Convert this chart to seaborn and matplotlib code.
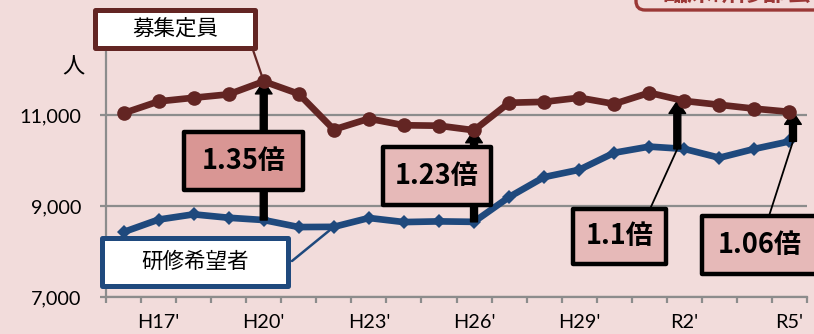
import matplotlib
matplotlib.use("Agg")
import matplotlib.pyplot as plt
import numpy as np
import pandas as pd
import seaborn as sns
from matplotlib.patches import Rectangle, FancyBboxPatch
from matplotlib.transforms import IdentityTransform

# ---- data -------------------------------------------------------------
years = ["H16'", "H17'", "H18'", "H19'", "H20'", "H21'", "H22'", "H23'",
         "H24'", "H25'", "H26'", "H27'", "H28'", "H29'", "H30'", "R1'",
         "R2'", "R3'", "R4'", "R5'"]
capacity = [11050, 11310, 11390, 11465, 11750, 11475, 10690, 10930, 10785, 10775,
            10675, 11280, 11300, 11390, 11255, 11500, 11320, 11235, 11150, 11080]
applicants = [8435, 8710, 8825, 8750, 8700, 8545, 8550, 8745, 8655, 8670,
              8660, 9205, 9645, 9805, 10180, 10315, 10265, 10070, 10265, 10430]
shown_years = ["H17'", "H20'", "H23'", "H26'", "H29'", "R2'", "R5'"]
y_ticks = [7000, 9000, 11000]
ratio_years = ["H20'", "H26'", "R2'", "R5'"]
ratio_labels = ["1.35倍", "1.23倍", "1.1倍", "1.06倍"]
capacity_name = "募集定員"
applicant_name = "研修希望者"
unit_label = "人"
header_text = "臨床研修部会"

# ---- style ------------------------------------------------------------
BG = "#F2DCDB"
RED = "#632523"
BLUE = "#1F497D"
GRID = "#8C8C8C"
BOX_DARK = "#D99694"
BOX_LIGHT = "#E6B9B8"
HEADER_RED = "#9B3836"

sns.set_theme(style="white")
plt.rcParams["font.family"] = ["Lato", "Noto Sans CJK JP", "DejaVu Sans"]
CJK = ["Noto Sans CJK JP", "DejaVu Sans"]

W, H = 814, 334
fig = plt.figure(figsize=(W / 100, H / 100), dpi=100, facecolor=BG)
ax = fig.add_axes([106 / W, (H - 297.3) / H, (807 - 106) / W, (297.3 - 47.3) / H])
ax.set_facecolor(BG)

df = pd.DataFrame({"pos": np.arange(len(years)), "year": years,
                   "capacity": capacity, "applicants": applicants})
idx = {y: i for i, y in enumerate(years)}

sns.lineplot(data=df, x="pos", y="applicants", ax=ax, color=BLUE, lw=4.8,
             marker="D", markersize=7.5, markeredgecolor=BLUE, markeredgewidth=0,
             zorder=3)
sns.lineplot(data=df, x="pos", y="capacity", ax=ax, color=RED, lw=4.8,
             marker="o", markersize=10.5, markeredgecolor=RED, markeredgewidth=0,
             zorder=6)

ax.set_xlim(-0.5, len(years) - 0.5)
ax.set_ylim(7000, 12500)
ax.set_xlabel("")
ax.set_ylabel("")

# axes, grid and ticks
for s in ["top", "right"]:
    ax.spines[s].set_visible(False)
for s in ["left", "bottom"]:
    ax.spines[s].set_color(GRID)
    ax.spines[s].set_linewidth(1.6)
ax.set_axisbelow(True)
ax.set_yticks(y_ticks)
ax.set_yticklabels([f"{v:,}" for v in y_ticks])
ax.yaxis.grid(True, color=GRID, lw=1.6)
ax.xaxis.grid(False)
ax.tick_params(axis="y", which="major", left=True, length=4.5, width=1.6,
               color=GRID, pad=13, labelsize=14.3, labelcolor="black")
ax.set_xticks(np.arange(-0.5, len(years), 1.0))
ax.set_xticklabels([])
ax.tick_params(axis="x", which="major", bottom=True, length=4.5, width=1.6,
               color=GRID)
ax.set_xticks([idx[y] for y in shown_years], minor=True)
ax.set_xticklabels(shown_years, minor=True)
ax.tick_params(axis="x", which="minor", bottom=True, length=0, pad=12,
               labelsize=14.3, labelcolor="black")

fig.text(73 / W, (H - 67) / H, unit_label, ha="center", va="center",
         fontsize=16, family=CJK, color="black")

ID = IdentityTransform()


def box(x0, y0, x1, y1, fc, ec, lw, z=7):
    """Rectangle given in image pixels (top-left origin)."""
    fig.add_artist(Rectangle((x0, H - y1), x1 - x0, y1 - y0, transform=ID,
                             facecolor=fc, edgecolor=ec, lw=lw,
                             joinstyle="round", zorder=z))


def link(px, py, x, y, color, lw, z):
    """Thin connector from an image-pixel point to a data point."""
    ax.annotate("", xy=(x, y), xycoords="data", xytext=(px, H - py),
                textcoords="figure pixels",
                arrowprops=dict(arrowstyle="-", color=color, lw=lw,
                                shrinkA=0, shrinkB=0),
                zorder=z, annotation_clip=False)


# ratio arrows from applicants up to capacity
arrow_dx = [0.0, 0.0, -0.2, 0.1]
for yr, dx in zip(ratio_years, arrow_dx):
    i = idx[yr]
    ax.annotate("", xy=(i + dx, capacity[i]), xytext=(i + dx, applicants[i]),
                arrowprops=dict(facecolor="black", edgecolor="black", width=5,
                                headwidth=12, headlength=9, shrink=0),
                zorder=5)

# ratio callout boxes
ratio_boxes = [(184, 132, 303, 190, BOX_DARK),
               (383, 147, 491, 205, BOX_LIGHT),
               (573, 209, 666, 264, BOX_LIGHT),
               (702, 216, 818, 274, BOX_LIGHT)]
for (x0, y0, x1, y1, fc), lab in zip(ratio_boxes, ratio_labels):
    box(x0, y0, x1, y1, fc, "black", 3.2)
    cx = (x0 + min(x1, 812)) / 2 + (3 if x1 > W else 0)
    fig.text(cx / W, (H - (y0 + y1) / 2) / H, lab, ha="center", va="center",
             fontsize=19.5, fontweight="bold", family=CJK, color="black",
             zorder=8)

# connectors for the two right-hand ratio boxes
i = idx["R2'"]
link(650, 209, i - 0.2, applicants[i], "black", 1.3, 4)
i = idx["R5'"]
link(769, 216, i + 0.1, applicants[i], "black", 1.3, 4)

# series name callouts
box(95, 10, 255, 48, "white", RED, 3.6)
fig.text(175 / W, (H - 29) / H, capacity_name, ha="center", va="center",
         fontsize=15.5, family=CJK, color="black", zorder=8)
i = idx["H20'"]
link(252, 47, i, capacity[i], RED, 1.6, 6)

box(102, 238, 288, 286, "white", BLUE, 3.6)
fig.text(195 / W, (H - 262) / H, applicant_name, ha="center", va="center",
         fontsize=15.5, family=CJK, color="black", zorder=8)
i = idx["H22'"]
link(292, 261, i, applicants[i], BLUE, 1.8, 4)

# header box at the top right, mostly outside the canvas
fig.add_artist(FancyBboxPatch((636, H - 10), 220, 60, transform=ID,
                              boxstyle="round,pad=0,rounding_size=9",
                              facecolor=BG, edgecolor=HEADER_RED, lw=2.4,
                              zorder=7))
fig.text(662 / W, (H - 1) / H, header_text, ha="left", va="baseline",
         fontsize=18, fontweight="bold", family=CJK, color=HEADER_RED,
         zorder=8)

fig.savefig("out.png", dpi=100, facecolor=BG)
